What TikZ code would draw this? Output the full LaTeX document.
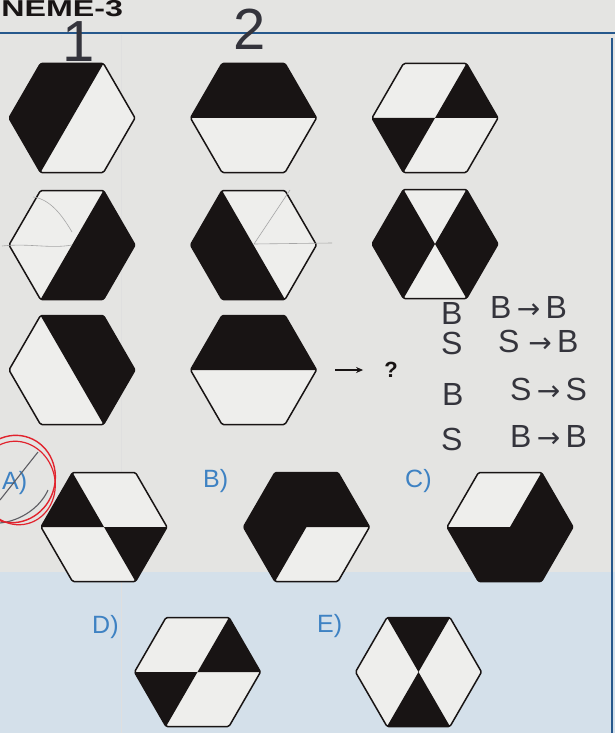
\documentclass[tikz,border=0pt]{standalone}
\usepackage{fontspec}
\setsansfont{Liberation Sans}
\newfontfamily\arrowfont{DejaVu Sans}
\usetikzlibrary{arrows.meta}
\definecolor{paper}{RGB}{228,228,226}
\definecolor{tint}{RGB}{212,224,234}
\definecolor{ink}{RGB}{24,20,20}
\definecolor{cellbg}{RGB}{238,238,236}
\definecolor{rulebl}{RGB}{38,88,140}
\definecolor{optbl}{RGB}{62,130,195}
\definecolor{pencil}{RGB}{52,52,60}
\definecolor{redpen}{RGB}{225,35,45}
\newcommand{\harr}{{\arrowfont\fontsize{28}{28}\selectfont →}}
\tikzset{
  cell/.style={fill=cellbg},
  blk/.style={fill=ink},
  edge/.style={draw=ink,line width=1.5pt,rounded corners=1.5pt,line join=round},
  opt/.style={font=\sffamily\fontsize{25}{25}\selectfont,text=optbl,inner sep=0pt,anchor=base west},
  hand/.style={font=\sffamily\fontsize{32}{32}\selectfont,text=pencil,inner sep=0pt,anchor=base west},
  bignum/.style={hand,font=\sffamily\fontsize{58}{58}\selectfont,anchor=base,text height=41pt,text depth=0pt},
  sketch/.style={draw=gray!70,line width=0.6pt},
  ar/.style={-{Stealth[length=7pt,width=6pt]},line width=1.4pt,ink},
}

\begin{document}
\begin{tikzpicture}[x=1pt,y=-1pt]
  \useasboundingbox (0,0) rectangle (615,733);
  \clip (0,0) rectangle (615,733);
  \fill[paper] (0,0) rectangle (615,733);
  \fill[tint] (0,572) rectangle (615,733);
  \draw[gray!25,line width=0.8pt] (121,35) -- (121,733);
  \draw[rulebl,line width=2pt] (0,33) -- (615,33);
  \draw[rulebl,line width=1.2pt] (612,38) -- (612,733);
  \node[font=\sffamily\bfseries\fontsize{23}{23}\selectfont,text=ink,inner sep=0pt,anchor=base west,xscale=1.4,text depth=0pt] (head) at (1,17) {NEME-3};
  % column numbers (pencil)
  \node[bignum] (col1) at (79,62) {1};
  \node[bignum] (col2) at (250,50) {2};

  \def\hexback{%
    \coordinate (O) at (0,0); \coordinate (E) at (63,0); \coordinate (W) at (-63,0);
    \coordinate (NE) at (31.5,-54.5); \coordinate (NW) at (-31.5,-54.5);
    \coordinate (SE) at (31.5,54.5); \coordinate (SW) at (-31.5,54.5);
    \fill[cell] (E)--(NE)--(NW)--(W)--(SW)--(SE)--cycle;}
  \def\hexedge{\draw[edge] (E)--(NE)--(NW)--(W)--(SW)--(SE)--cycle;}

  % row 1
  \begin{scope}[shift={(72,118)}] \hexback
    \fill[blk] (NE)--(NW)--(W)--(SW)--cycle; \hexedge \end{scope}
  \begin{scope}[shift={(253.5,118)}] \hexback
    \fill[blk] (W)--(NW)--(NE)--(E)--cycle; \hexedge \end{scope}
  \begin{scope}[shift={(435,118)}] \hexback
    \fill[blk] (O)--(NE)--(E)--cycle (O)--(W)--(SW)--cycle; \hexedge \end{scope}
  % row 2
  \begin{scope}[shift={(72,245)}] \hexback
    \fill[blk] (NE)--(E)--(SE)--(SW)--cycle; \hexedge \end{scope}
  \begin{scope}[shift={(253.5,245)}] \hexback
    \fill[blk] (NW)--(W)--(SW)--(SE)--cycle; \hexedge \end{scope}
  \begin{scope}[shift={(435,244)}] \hexback
    \fill[blk] (W)--(NW)--(O)--(SW)--cycle (O)--(NE)--(E)--(SE)--cycle; \hexedge \end{scope}
  % pencil marks on row 2
  \draw[sketch] (2,246) .. controls (30,243) and (50,249) .. (72,245);
  \draw[sketch] (33,197) .. controls (50,199) and (62,215) .. (72,232);
  \draw[sketch] (290,190) -- (254,244) -- (332,243);
  % row 3
  \begin{scope}[shift={(72,370)}] \hexback
    \fill[blk] (NW)--(NE)--(E)--(SE)--cycle; \hexedge \end{scope}
  \begin{scope}[shift={(253.5,370)}] \hexback
    \fill[blk] (W)--(NW)--(NE)--(E)--cycle; \hexedge \end{scope}
  \coordinate (tail) at (335,370);
  \node[font=\sffamily\bfseries\fontsize{22}{22}\selectfont,text=ink,inner sep=0pt] (qmark) at (391,370) {?};
  \draw[ar,shorten >=21pt] (tail) -- (qmark.west);

  % pencil notes
  \node[hand] (n1a) at (441,324) {B};
  \node[hand] (n1b) at (490,318) {B\,\harr\,B};
  \node[hand] (n2a) at (441,354) {S};
  \node[hand] (n2b) at (498,352) {S\;\harr\,B};
  \node[hand] (n3a) at (442,405) {B};
  \node[hand] (n3b) at (510,400) {S\,\harr\,S};
  \node[hand] (n4a) at (441,450) {S};
  \node[hand] (n4b) at (510,447) {B\,\harr\,B};

  % options
  \node[opt] (optA) at (2,489) {A)};
  \node[opt] (optB) at (203,487) {B)};
  \node[opt] (optC) at (405,487) {C)};
  \node[opt] (optD) at (92,633) {D)};
  \node[opt] (optE) at (317,632) {E)};
  \begin{scope}[shift={(104,527)}] \hexback
    \fill[blk] (W)--(NW)--(O)--cycle (O)--(E)--(SE)--cycle; \hexedge \end{scope}
  \begin{scope}[shift={(306.5,527)}] \hexback
    \fill[blk] (W)--(NW)--(NE)--(E)--(O)--(SW)--cycle; \hexedge \end{scope}
  \begin{scope}[shift={(510,527)}] \hexback
    \fill[blk] (W)--(O)--(NE)--(E)--(SE)--(SW)--cycle; \hexedge \end{scope}
  \begin{scope}[shift={(197.5,672)}] \hexback
    \fill[blk] (O)--(NE)--(E)--cycle (O)--(W)--(SW)--cycle; \hexedge \end{scope}
  \begin{scope}[shift={(418.5,672)}] \hexback
    \fill[blk] (NW)--(NE)--(O)--cycle (SW)--(SE)--(O)--cycle; \hexedge \end{scope}

  % answer marks
  \draw[pencil!80,line width=1.1pt] (0,500) -- (38,452);
  \draw[pencil!80,line width=1.1pt] (0,523) .. controls (20,521) and (40,508) .. (48,490);
  \draw[redpen,line width=1.4pt,rotate around={-20:(14,479)}] (14,479) ellipse [x radius=41pt,y radius=44pt];
  \draw[redpen,line width=1.2pt,rotate around={15:(17,483)}] (17,483) ellipse [x radius=38pt,y radius=42pt];
\end{tikzpicture}
\end{document}
